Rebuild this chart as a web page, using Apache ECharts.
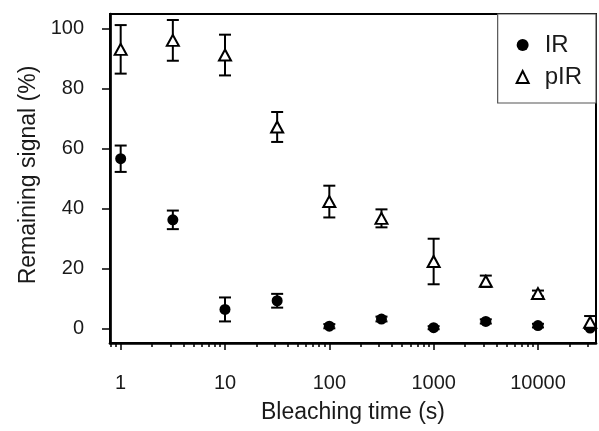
<!DOCTYPE html>
<html>
<head>
<meta charset="utf-8">
<script src="https://cdn.jsdelivr.net/npm/echarts@6/dist/echarts.min.js"></script>
<style>
  html, body { margin: 0; padding: 0; background: #fff; }
  #chart { width: 599px; height: 431px; }
</style>
</head>
<body>
<div id="chart"></div>
<script>
// Bleaching times (s)
const bleachTimes = [1, 3.162, 10, 31.62, 100, 316.2, 1000, 3162, 10000, 31623];
// Remaining IR signal (%) and its error
const irMean = [56.7, 36.3, 6.4, 9.3, 0.8, 3.2, 0.3, 2.4, 1.0, 0.2];
const irErr  = [4.4, 3.1, 4.0, 2.3, 0.7, 0.8, 0.5, 0.7, 0.6, 0.3];
// Remaining pIR signal (%) and its error
const pirMean = [93.2, 96.2, 91.3, 67.3, 42.4, 36.8, 22.4, 15.8, 11.7, 2.1];
const pirErr  = [8.1, 6.8, 6.8, 5.0, 5.3, 3.0, 7.6, 1.9, 1.0, 2.1];
// Axis ticks
const xMajorTicks = [1, 10, 100, 1000, 10000];
const xMinorTicks = [0.8, 0.9, 2, 3, 4, 5, 6, 7, 8, 9, 20, 30, 40, 50, 60, 70, 80, 90,
  200, 300, 400, 500, 600, 700, 800, 900, 2000, 3000, 4000, 5000, 6000, 7000, 8000, 9000,
  20000, 30000];
const yTicks = [0, 20, 40, 60, 80, 100];

const FONT = '"Liberation Sans", Arial, sans-serif';
const TEXT = '#1a1a1a';

function triples(xs, ms, es) {
  return xs.map((x, i) => [x, ms[i], es[i]]);
}

// Vertical error bar with end caps
function errorBar(params, api) {
  const x = api.value(0), m = api.value(1), e = api.value(2);
  const top = api.coord([x, m + e]);
  const bot = api.coord([x, m - e]);
  const hw = 6;
  const style = { stroke: '#000', lineWidth: 2 };
  return {
    type: 'group',
    children: [
      { type: 'line', shape: { x1: top[0], y1: top[1], x2: bot[0], y2: bot[1] }, style },
      { type: 'line', shape: { x1: top[0] - hw, y1: top[1], x2: top[0] + hw, y2: top[1] }, style },
      { type: 'line', shape: { x1: bot[0] - hw, y1: bot[1], x2: bot[0] + hw, y2: bot[1] }, style }
    ]
  };
}

const xMin = 0.79, xMax = 36000;

const chart = echarts.init(document.getElementById('chart'), null, { renderer: 'canvas' });
chart.setOption({
  animation: false,
  backgroundColor: '#fff',
  textStyle: { fontFamily: FONT },
  grid: {
    left: 110, right: 3, top: 14, bottom: 88,
    show: true, borderColor: '#000', borderWidth: 2, backgroundColor: 'transparent'
  },
  legend: {
    orient: 'vertical',
    right: 3, top: 14,
    padding: [19, 14, 14, 18],
    itemGap: 8,
    itemWidth: 12, itemHeight: 12,
    borderColor: '#555', borderWidth: 1.2,
    backgroundColor: '#fff',
    textStyle: { fontSize: 24, color: TEXT, fontFamily: FONT, padding: [0, 0, 0, 11] },
    data: ['IR', 'pIR']
  },
  xAxis: [
    {
      type: 'log', logBase: 10, min: xMin, max: xMax,
      name: 'Bleaching time (s)', nameLocation: 'middle', nameGap: 58,
      nameTextStyle: { fontSize: 23, color: TEXT, fontFamily: FONT },
      axisLine: { show: true, onZero: false, lineStyle: { color: '#000', width: 2.7 } },
      axisTick: { show: true, length: 7, lineStyle: { color: '#000', width: 1.5 }, customValues: xMajorTicks },
      axisLabel: { fontSize: 20, color: TEXT, margin: 30, fontFamily: FONT, customValues: xMajorTicks,
                   formatter: v => String(Math.round(v)) },
      splitLine: { show: false }, minorTick: { show: false }
    },
    {
      type: 'log', logBase: 10, min: xMin, max: xMax, position: 'bottom',
      axisLine: { show: false, onZero: false },
      axisTick: { show: true, length: 4, lineStyle: { color: '#000', width: 1.5 }, customValues: xMinorTicks },
      axisLabel: { show: false },
      splitLine: { show: false }
    }
  ],
  yAxis: {
    type: 'value', min: -4.8, max: 105,
    name: 'Remaining signal (%)', nameLocation: 'middle', nameGap: 64,
    nameTextStyle: { fontSize: 23, color: TEXT, fontFamily: FONT, padding: [0, 0, 0, 7] },
    axisLine: { show: true, onZero: false, lineStyle: { color: '#000', width: 2.7 } },
    axisTick: { show: true, length: 8, lineStyle: { color: '#000', width: 1.5 }, customValues: yTicks },
    axisLabel: { fontSize: 20, color: TEXT, margin: 26, fontFamily: FONT, customValues: yTicks },
    splitLine: { show: false }
  },
  series: [
    {
      type: 'custom', name: 'IR err', renderItem: errorBar, xAxisIndex: 0,
      data: triples(bleachTimes, irMean, irErr), z: 2, silent: true,
      encode: { x: 0, y: 1 }
    },
    {
      type: 'custom', name: 'pIR err', renderItem: errorBar, xAxisIndex: 0,
      data: triples(bleachTimes, pirMean, pirErr), z: 2, silent: true,
      encode: { x: 0, y: 1 }
    },
    {
      type: 'scatter', name: 'IR', xAxisIndex: 0,
      data: bleachTimes.map((x, i) => [x, irMean[i]]),
      symbol: 'circle', symbolSize: 11, z: 3,
      itemStyle: { color: '#000', borderWidth: 0, opacity: 1 }
    },
    {
      type: 'scatter', name: 'pIR', xAxisIndex: 0,
      data: bleachTimes.map((x, i) => [x, pirMean[i]]),
      symbol: 'triangle', symbolSize: [12, 11], z: 3,
      itemStyle: { color: '#fff', borderColor: '#000', borderWidth: 2, opacity: 1 }
    }
  ]
});
</script>
</body>
</html>
